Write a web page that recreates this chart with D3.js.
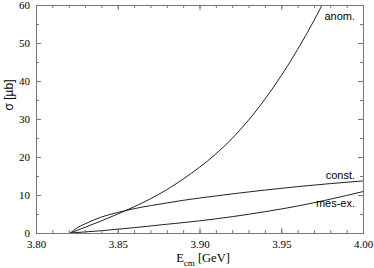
<!DOCTYPE html>
<html>
<head>
<meta charset="utf-8">
<script src="https://cdn.jsdelivr.net/npm/d3@7"></script>
<style>
  body { margin: 0; background: #fff; }
  svg { display: block; }
</style>
</head>
<body>
<svg id="chart" width="374" height="268"></svg>
<script>
// E_cm [GeV] and sigma [mu b]
const anomE = [3.821, 3.83, 3.84, 3.85, 3.86, 3.87, 3.88, 3.89, 3.90, 3.91, 3.92, 3.93, 3.94, 3.95, 3.96, 3.97, 3.98];
const anomS = [0, 1.5, 3.2, 5.0, 6.9, 9.0, 11.4, 14.2, 17.3, 20.8, 24.9, 29.7, 35.2, 41.4, 48.3, 55.9, 64.2];

const constE = [3.821, 3.825, 3.83, 3.84, 3.85, 3.86, 3.87, 3.88, 3.89, 3.90, 3.92, 3.94, 3.96, 3.98, 4.00];
const constS = [0, 1.3, 2.4, 4.2, 5.4, 6.4, 7.2, 7.9, 8.6, 9.2, 10.3, 11.3, 12.2, 13.0, 13.7];

const mesE = [3.821, 3.84, 3.86, 3.88, 3.90, 3.92, 3.94, 3.96, 3.98, 4.00];
const mesS = [0, 0.6, 1.4, 2.3, 3.2, 4.3, 5.6, 7.1, 8.9, 10.9];

const xTicks = [3.80, 3.85, 3.90, 3.95, 4.00];
const yTicks = [0, 10, 20, 30, 40, 50, 60];

const curveLabels = ['anom.', 'const.', 'mes-ex.'];

let svg = d3.select('#chart');

let padL = 36, padR = 363, padT = 5, padB = 233;

let x = d3.scaleLinear().domain([3.80, 4.00]).range([padL, padR]);
let y = d3.scaleLinear().domain([0, 60]).range([padB, padT]);

// clip curves to the frame
svg.append('clipPath').attr('id', 'clip')
  .append('rect')
  .attr('x', padL).attr('y', padT)
  .attr('width', padR - padL).attr('height', padB - padT);

let line = d3.line()
  .x(d => x(d[0]))
  .y(d => y(d[1]))
  .curve(d3.curveMonotoneX);

let series = [
  d3.zip(anomE, anomS),
  d3.zip(constE, constS),
  d3.zip(mesE, mesS)
];

svg.append('g')
  .attr('clip-path', 'url(#clip)')
  .selectAll('path')
  .data(series)
  .join('path')
  .attr('fill', 'none')
  .attr('stroke', '#222')
  .attr('stroke-width', 1)
  .attr('d', line);

// frame with inward ticks on all sides
let frameColor = '#777';
let serif = '"Liberation Serif", "Times New Roman", serif';

let xMinor = d3.range(3.80, 4.0001, 0.01).map(v => +v.toFixed(2));
let yMinor = d3.range(0, 60.001, 5);

let xAxisB = d3.axisBottom(x).tickValues(xMinor)
  .tickSize(-3).tickFormat('');
let xAxisBMaj = d3.axisBottom(x).tickValues(xTicks)
  .tickSize(-5).tickPadding(7).tickFormat(d3.format('.2f'));
let xAxisT = d3.axisTop(x).tickValues(xMinor).tickSize(-3).tickFormat('');
let xAxisTMaj = d3.axisTop(x).tickValues(xTicks).tickSize(-5).tickFormat('');

let yAxisL = d3.axisLeft(y).tickValues(yMinor).tickSize(-3).tickFormat('');
let yAxisLMaj = d3.axisLeft(y).tickValues(yTicks)
  .tickSize(-5).tickPadding(6).tickFormat(d3.format('d'));
let yAxisR = d3.axisRight(y).tickValues(yMinor).tickSize(-3).tickFormat('');
let yAxisRMaj = d3.axisRight(y).tickValues(yTicks).tickSize(-5).tickFormat('');

function put(axis, tx, ty) {
  let g = svg.append('g')
    .attr('transform', `translate(${tx},${ty})`)
    .call(axis)
    .attr('font-family', serif)
    .attr('font-size', 11);
  g.select('.domain').attr('stroke', frameColor);
  g.selectAll('.tick line').attr('stroke', frameColor);
  g.selectAll('.tick text').attr('fill', '#000');
  return g;
}

put(xAxisB, 0, padB);
put(xAxisBMaj, 0, padB);
put(xAxisT, 0, padT);
put(xAxisTMaj, 0, padT);
put(yAxisL, padL, 0);
put(yAxisLMaj, padL, 0);
put(yAxisR, padR, 0);
put(yAxisRMaj, padR, 0);

// curve labels
let labelPos = [[355, 20], [355, 179], [355, 207]];
svg.append('g')
  .selectAll('text')
  .data(curveLabels)
  .join('text')
  .attr('x', (d, i) => labelPos[i][0])
  .attr('y', (d, i) => labelPos[i][1])
  .attr('text-anchor', 'end')
  .attr('font-family', '"Liberation Sans", Arial, sans-serif')
  .attr('font-size', 11)
  .text(d => d);

// axis titles
let xt = svg.append('text')
  .attr('x', 203).attr('y', 262)
  .attr('text-anchor', 'middle')
  .attr('font-family', serif)
  .attr('font-size', 12.5);
xt.append('tspan').text('E');
xt.append('tspan').attr('dy', 4).attr('font-size', 9).text('cm');
xt.append('tspan').attr('dy', -4).text(' [GeV]');

svg.append('text')
  .attr('transform', 'translate(13,95) rotate(-90)')
  .attr('text-anchor', 'middle')
  .attr('font-family', '"Liberation Sans", Arial, sans-serif')
  .attr('font-size', 12)
  .text('σ [µb]');
</script>
</body>
</html>
